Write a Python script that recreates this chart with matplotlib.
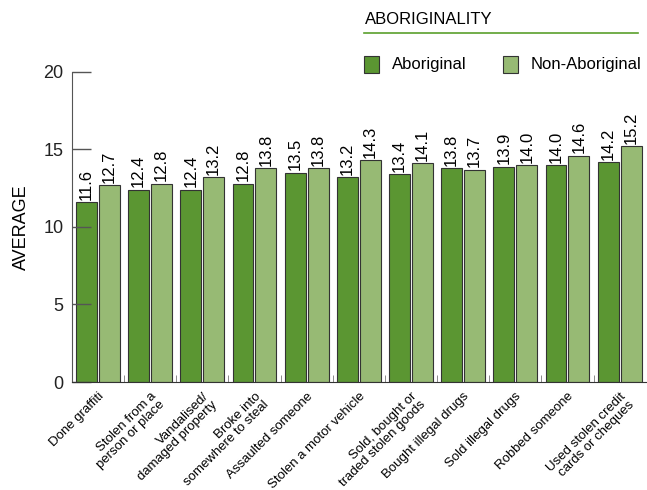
import numpy as np
import matplotlib.pyplot as plt
from matplotlib.patches import Rectangle
from matplotlib.lines import Line2D

plt.rcParams['font.family'] = ['Liberation Sans', 'DejaVu Sans']

categories = ['Done graffiti', 'Stolen from a\nperson or place', 'Vandalised/\ndamaged property',
              'Broke into\nsomewhere to steal', 'Assaulted someone', 'Stolen a motor vehicle',
              'Sold, bought or\ntraded stolen goods', 'Bought illegal drugs', 'Sold illegal drugs',
              'Robbed someone', 'Used stolen credit\ncards or cheques']
aboriginal = [11.6, 12.4, 12.4, 12.8, 13.5, 13.2, 13.4, 13.8, 13.9, 14.0, 14.2]
non_aboriginal = [12.7, 12.8, 13.2, 13.8, 13.8, 14.3, 14.1, 13.7, 14.0, 14.6, 15.2]
y_ticks = [0, 5, 10, 15, 20]

dark = '#5b9632'
light = '#97ba74'
edge = '#333333'

fig = plt.figure(figsize=(6.47, 4.9), dpi=100)
ax = fig.add_axes([0.111, 0.2204, 0.887, 0.6327])

x = np.arange(len(categories))
w = 0.40
b1 = ax.bar(x - 0.22, aboriginal, w, color=dark, edgecolor=edge, linewidth=0.8)
b2 = ax.bar(x + 0.22, non_aboriginal, w, color=light, edgecolor=edge, linewidth=0.8)

for bars, vals in ((b1, aboriginal), (b2, non_aboriginal)):
    for r, v in zip(bars, vals):
        ax.text(r.get_x() + r.get_width() / 2, v + 0.15, f'{v:.1f}', rotation=90,
                ha='center', va='bottom', fontsize=12)

ax.set_xlim(-0.5, len(categories) - 0.5)
ax.set_ylim(0, 20)
ax.set_yticks(y_ticks)
ax.tick_params(axis='y', direction='in', length=14, width=1, colors='#555555',
               labelcolor='#222222', labelsize=13, pad=6)
ax.set_xticks(x)
ax.set_xticklabels(categories, rotation=45, ha='right', rotation_mode='anchor',
                   fontsize=9.5, linespacing=1.0)
ax.tick_params(axis='x', length=0, pad=6)
# small separators between groups along the baseline
ax.set_xticks(x[:-1] + 0.5, minor=True)
ax.tick_params(axis='x', which='minor', direction='in', length=5, color='#777777')

for s in ('top', 'right'):
    ax.spines[s].set_visible(False)
ax.spines['left'].set_color('#555555')
ax.spines['bottom'].set_color('#333333')
ax.set_ylabel('AVERAGE', fontsize=13, labelpad=10)

# legend block
fig.text(365 / 647, 1 - 20 / 490, 'ABORIGINALITY', fontsize=12, va='center', ha='left')
fig.add_artist(Line2D([364 / 647, 638 / 647], [1 - 33 / 490, 1 - 33 / 490],
                      color='#5aa02c', linewidth=1.2))
for px, col, lab in ((364, dark, 'Aboriginal'), (503, light, 'Non-Aboriginal')):
    fig.add_artist(Rectangle((px / 647, 1 - 73 / 490), 15 / 647, 17 / 490,
                             facecolor=col, edgecolor=edge, linewidth=0.8,
                             transform=fig.transFigure))
    fig.text((px + 28) / 647, 1 - 64 / 490, lab, fontsize=12, va='center', ha='left')

fig.savefig('out.png', dpi=100)
